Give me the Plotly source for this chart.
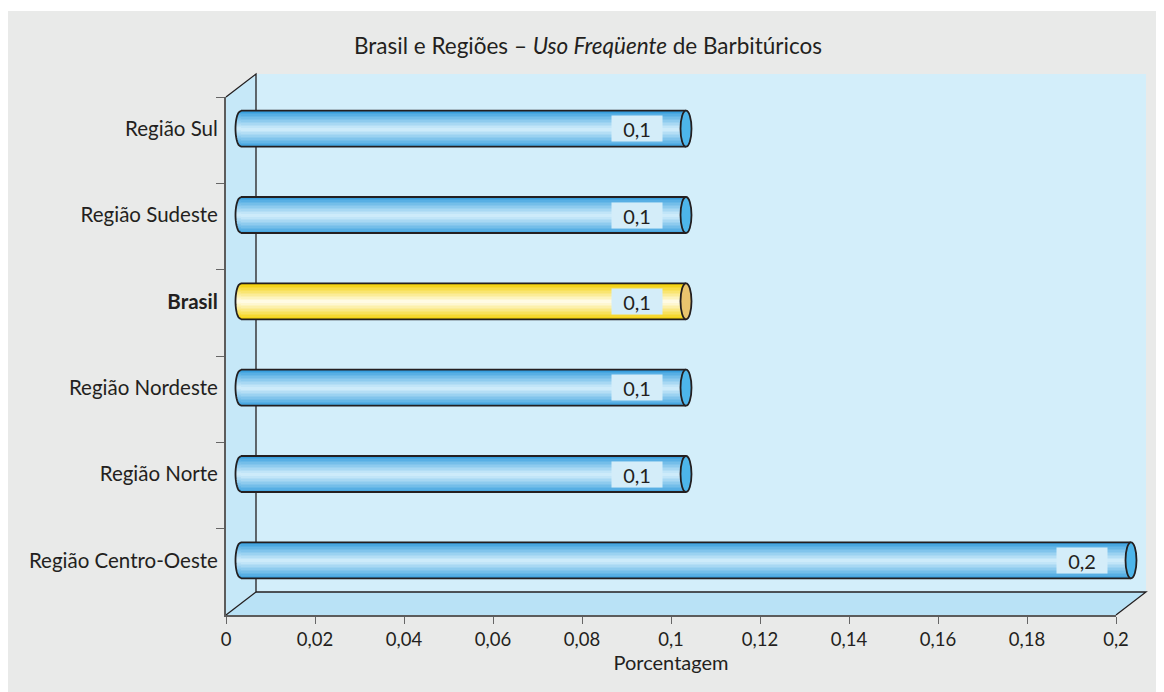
import plotly.graph_objects as go

# data (top to bottom as shown)
categories = ["Região Sul", "Região Sudeste", "Brasil", "Região Nordeste",
              "Região Norte", "Região Centro-Oeste"]
values = [0.1, 0.1, 0.1, 0.1, 0.1, 0.2]
highlight = "Brasil"
x_ticks = [0, 0.02, 0.04, 0.06, 0.08, 0.1, 0.12, 0.14, 0.16, 0.18, 0.2]
x_max = 0.2

title_text = "Brasil e Regiões – <i>Uso Freqüente</i> de Barbitúricos"
x_title = "Porcentagem"

# the page body has an 8px margin, so the figure is a bit smaller and
# every reference pixel is shifted by OFF
OFF = 8
W, H = 1164 - OFF, 692 - OFF
FONT = "Lato"
INK = "#231f20"


def fx(p):
    return (p - OFF) / W


def fy(p):
    return 1 - (p - OFF) / H


# front plane of the box (reference pixels) and depth offset
X0, X1, YT, YB = 226, 1116, 97, 615
DX, DY = 30, -23

BAR_W = 0.42      # category units
RY = 18           # half bar height, px
RX = 5.5          # end-cap radius, px
N = 12            # gradient layers
PAD = 12          # px of room around the bar axis so caps are not clipped
unit = x_max / (X1 - X0)


def hex2rgb(h):
    h = h.lstrip("#")
    return [int(h[i:i + 2], 16) for i in (0, 2, 4)]


def mix(a, b, t):
    a, b = hex2rgb(a), hex2rgb(b)
    return "rgb(%d,%d,%d)" % tuple(round(a[i] + (b[i] - a[i]) * t) for i in range(3))


blue = ("#389fde", "#cdebfa", "#4db5ea")
yellow = ("#f3cf00", "#fffbe4", "#e9c46e")
schemes = [yellow if c == highlight else blue for c in categories]

fig = go.Figure()

# invisible trace so the front (tick) axes get drawn
fig.add_trace(go.Scatter(x=values, y=categories, mode="markers", marker=dict(opacity=0),
                         hoverinfo="skip", showlegend=False))

# cylinder bodies as stacked overlay bars (gradient)
for i in range(N):
    t = (i / (N - 1)) ** 0.9
    fig.add_trace(go.Bar(
        x=values, y=categories, orientation="h", base=0,
        width=BAR_W * (1 - i / N),
        marker=dict(color=[mix(s[0], s[1], t) for s in schemes], line=dict(width=0)),
        xaxis="x2", yaxis="y2", hoverinfo="skip", showlegend=False,
    ))

shapes = []

# gray card
shapes.append(dict(type="rect", xref="paper", yref="paper", x0=0, x1=1, y0=0, y1=fy(11),
                   fillcolor="#e9eae9", line=dict(width=0), layer="below"))


def poly(pts, fill, line_w=0, line_c=INK, close=True):
    d = "M " + " L ".join("%f,%f" % (fx(a), fy(b)) for a, b in pts)
    if close:
        d += " Z"
    return dict(type="path", xref="paper", yref="paper", path=d,
                fillcolor=fill, line=dict(width=line_w, color=line_c), layer="below")


# back wall, left wall, floor
shapes.append(poly([(X0 + DX, YT + DY), (X1 + DX, YT + DY), (X1 + DX, YB + DY), (X0 + DX, YB + DY)], "#d3eefa"))
shapes.append(poly([(X0, YT), (X0 + DX, YT + DY), (X0 + DX, YB + DY), (X0, YB)], "#c6e8f8"))
shapes.append(poly([(X0, YB), (X0 + DX, YB + DY), (X1 + DX, YB + DY), (X1, YB)], "#b9e2f6"))
# dark edges
shapes.append(poly([(X0, YT), (X0 + DX, YT + DY), (X0 + DX, YB + DY), (X1 + DX, YB + DY), (X1, YB)],
                   "rgba(0,0,0,0)", 1.3, INK, close=False))
shapes.append(poly([(X0, YB), (X0 + DX, YB + DY)], "rgba(0,0,0,0)", 1.3, INK, close=False))


def half_ellipse(h, steps):
    pts = []
    for k in range(steps + 1):
        yy = -h + 2 * h * k / steps
        xx = -RX * max(0.0, 1 - (yy / RY) ** 2) ** 0.5
        pts.append((xx, yy))
    return pts


# cylinder end caps and outlines
for cat, v, s in zip(categories, values, schemes):
    # left cap, layered like the body
    for i in range(N):
        h = RY * (1 - i / N)
        t = (i / (N - 1)) ** 0.9
        pts = half_ellipse(h, 10)
        d = "M 0,%f L " % -h + " L ".join("%f,%f" % p for p in pts) + " L 0,%f Z" % h
        shapes.append(dict(type="path", xref="x2", yref="y2", xsizemode="pixel", ysizemode="pixel",
                           xanchor=0, yanchor=cat, path=d, fillcolor=mix(s[0], s[1], t),
                           line=dict(width=0), layer="above"))
    arc = half_ellipse(RY, 20)
    shapes.append(dict(type="path", xref="x2", yref="y2", xsizemode="pixel", ysizemode="pixel",
                       xanchor=0, yanchor=cat,
                       path="M " + " L ".join("%f,%f" % p for p in arc),
                       line=dict(width=1.8, color=INK), layer="above"))
    for yy in (RY, -RY):
        shapes.append(dict(type="line", xref="x2", yref="y2", ysizemode="pixel", yanchor=cat,
                           x0=0, x1=v, y0=yy, y1=yy, line=dict(width=1.8, color=INK), layer="above"))
    shapes.append(dict(type="circle", xref="x2", yref="y2", xsizemode="pixel", ysizemode="pixel",
                       xanchor=v, yanchor=cat, x0=-RX, x1=RX, y0=-RY, y1=RY,
                       fillcolor=s[2], line=dict(width=1.8, color=INK), layer="above"))

annotations = []
for cat, v in zip(categories, values):
    annotations.append(dict(
        x=v, y=cat, xref="x2", yref="y2", xanchor="right", yanchor="middle", xshift=-23,
        text=("%.1f" % v).replace(".", ","), showarrow=False, bgcolor="#d4edf9",
        width=50, height=25, borderpad=0, font=dict(family=FONT, size=20, color=INK),
    ))

tick_font = dict(family=FONT, size=20.5, color=INK)
fig.update_layout(
    width=W, height=H,
    margin=dict(l=0, r=0, t=0, b=0),
    paper_bgcolor="white",
    plot_bgcolor="rgba(0,0,0,0)",
    barmode="overlay",
    bargap=0,
    separators=",.",
    showlegend=False,
    title=dict(text=title_text, x=fx(588), y=fy(46), xanchor="center", yanchor="middle",
               font=dict(family=FONT, size=22.5, color=INK)),
    xaxis=dict(domain=[fx(X0), fx(X1)], range=[0, x_max], tickmode="array", tickvals=x_ticks,
               ticks="outside", ticklen=7, tickcolor="#666", tickwidth=1.3,
               showline=True, linecolor="#5c5c5c", linewidth=1.5,
               showgrid=False, zeroline=False, anchor="y", automargin=False,
               tickfont=dict(family=FONT, size=18.5, color=INK),
               title=dict(text=x_title, standoff=7, font=dict(family=FONT, size=20, color=INK))),
    yaxis=dict(domain=[fy(YB), fy(YT)], type="category", categoryorder="array",
               categoryarray=categories, range=[len(categories) - 0.5, -0.5],
               ticks="outside", tickson="boundaries", ticklen=8, tickcolor="#666", tickwidth=1.3,
               showticklabels=False, showline=True, linecolor="#5c5c5c", linewidth=1.5,
               showgrid=False, zeroline=False, anchor="x", automargin=False),
    xaxis2=dict(domain=[fx(X0 + DX / 2 - PAD), fx(X1 + DX / 2 + PAD)],
                range=[-PAD * unit, x_max + PAD * unit], anchor="y2",
                visible=False, automargin=False),
    yaxis2=dict(domain=[fy(YB + DY / 2), fy(YT + DY / 2)], type="category", categoryorder="array",
                categoryarray=categories, range=[len(categories) - 0.5, -0.5],
                anchor="free", position=fx(X0), ticks="outside", ticklen=4,
                tickcolor="rgba(0,0,0,0)", showline=False, showgrid=False, zeroline=False,
                tickfont=tick_font, automargin=False,
                tickvals=categories,
                ticktext=["<b>%s</b>" % c if c == highlight else c for c in categories]),
    shapes=shapes,
    annotations=annotations,
)

fig.write_html("out.html")
